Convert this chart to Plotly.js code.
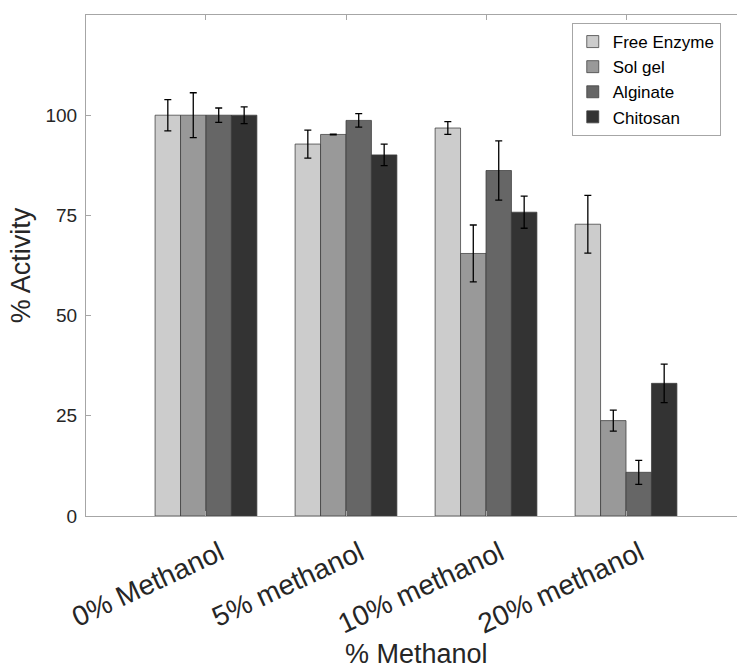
<!DOCTYPE html>
<html>
<head>
<meta charset="utf-8">
<script src="https://cdn.plot.ly/plotly-3.0.1.min.js"></script>
<style>
html,body{margin:0;padding:0;overflow:hidden;background:#fff;}
#chart{width:760px;height:671px;}
</style>
</head>
<body>
<div id="chart"></div>
<script>
// Data
var categories = ["0% Methanol", "5% methanol", "10% methanol", "20% methanol"];
var seriesNames = ["Free Enzyme", "Sol gel", "Alginate", "Chitosan"];
var freeEnzyme = [100, 92.8, 96.8, 72.8];
var solGel     = [100, 95.2, 65.5, 23.8];
var alginate   = [100, 98.7, 86.2, 10.9];
var chitosan   = [100, 90.1, 75.8, 33.1];
var freeEnzymeErr = [3.9, 3.5, 1.6, 7.2];
var solGelErr     = [5.6, 0.1, 7.1, 2.6];
var alginateErr   = [1.8, 1.7, 7.4, 3.0];
var chitosanErr   = [2.1, 2.7, 4.0, 4.8];
var yTicks = [0, 25, 50, 75, 100];
var xTitle = "% Methanol";
var yTitle = "% Activity";

var values = [freeEnzyme, solGel, alginate, chitosan];
var errors = [freeEnzymeErr, solGelErr, alginateErr, chitosanErr];
var colors = ["#cccccc", "#999999", "#666666", "#333333"];
var font = "Liberation Sans, Arial, Helvetica, sans-serif";

var traces = seriesNames.map(function (name, i) {
  return {
    type: "bar",
    name: name,
    x: categories,
    y: values[i],
    marker: { color: colors[i], line: { color: "rgba(60,60,60,0.75)", width: 1 } },
    error_y: { type: "data", array: errors[i], visible: true, color: "#000000", thickness: 1.3, width: 3.5 }
  };
});

var layout = {
  width: 760,
  height: 671,
  margin: { l: 86, r: 14, t: 15, b: 155 },
  paper_bgcolor: "#ffffff",
  plot_bgcolor: "#ffffff",
  barmode: "group",
  bargap: 0.273,
  bargroupgap: 0,
  font: { family: font, color: "#262626" },
  xaxis: {
    type: "category",
    range: [-0.857, 3.857],
    tickangle: -25,
    tickfont: { size: 28, family: font, color: "#262626" },
    ticklabelshift: 14,
    ticklabelstandoff: 9,
    showline: true,
    linecolor: "#a6a6a6",
    linewidth: 1,
    mirror: "ticks",
    ticks: "inside",
    ticklen: 5,
    tickcolor: "#a6a6a6",
    showgrid: false,
    zeroline: false,
    automargin: false
  },
  yaxis: {
    range: [0, 125],
    tickvals: yTicks,
    ticktext: yTicks.map(String),
    tickfont: { size: 19, family: font, color: "#262626" },
    showline: true,
    linecolor: "#a6a6a6",
    linewidth: 1,
    mirror: false,
    ticks: "inside",
    ticklen: 5,
    tickcolor: "#a6a6a6",
    ticklabelstandoff: 4,
    showgrid: false,
    zeroline: false,
    automargin: true,
    title: { text: yTitle, font: { size: 27, family: font, color: "#262626" }, standoff: 7 }
  },
  annotations: [{
    text: xTitle,
    xref: "paper", yref: "paper",
    x: 0.5, y: (516 - 671) / 501,
    xanchor: "center", yanchor: "bottom",
    showarrow: false,
    font: { size: 27, family: font, color: "#262626" }
  }],
  legend: {
    x: 0.736,
    y: 0.984,
    xanchor: "left",
    yanchor: "top",
    bgcolor: "#ffffff",
    bordercolor: "#a6a6a6",
    borderwidth: 1,
    font: { size: 17, family: font, color: "#000000" },
    tracegroupgap: 0
  },
  showlegend: true
};

Plotly.newPlot("chart", traces, layout, { displayModeBar: false, staticPlot: true });
</script>
</body>
</html>
